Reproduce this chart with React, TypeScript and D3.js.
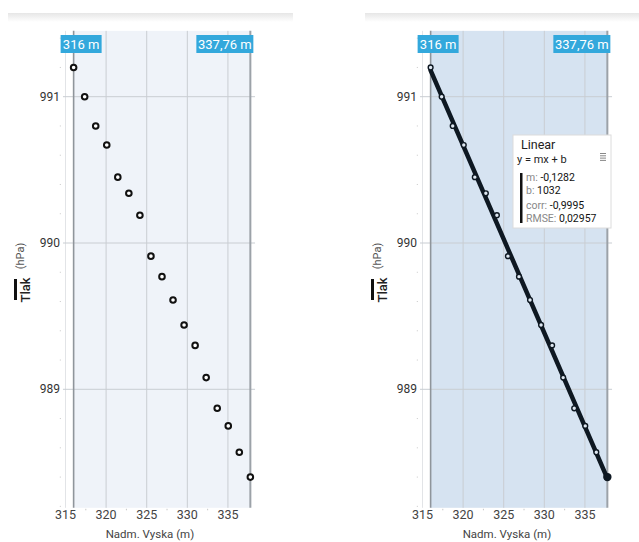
import React from 'react'
import * as d3 from 'd3'

// altitude (m) and pressure (hPa) readings
const altitude = [316, 317.36, 318.72, 320.08, 321.44, 322.8, 324.16, 325.52, 326.88, 328.24, 329.6, 330.96, 332.32, 333.68, 335.04, 336.4, 337.76]
const pressure = [991.2, 991.0, 990.8, 990.67, 990.45, 990.34, 990.19, 989.91, 989.77, 989.61, 989.44, 989.3, 989.08, 988.87, 988.75, 988.57, 988.4]

const xTicks = [315, 320, 325, 330, 335]
const xMinor = [317.5, 322.5, 327.5, 332.5]
const yTicks = [991, 990, 989]
const yMinor = [991.4, 991.2, 990.8, 990.6, 990.4, 990.2, 989.8, 989.6, 989.4, 989.2, 988.8, 988.6, 988.4, 988.2]
const rangeStart = 316
const rangeEnd = 337.76
const rangeLabels = ['316 m', '337,76 m']

const fitStats = [
  { label: 'm:', value: '-0,1282' },
  { label: 'b:', value: '1032' },
  { label: 'corr:', value: '-0,9995' },
  { label: 'RMSE:', value: '0,02957' },
]

const font = 'Roboto, "Noto Sans", sans-serif'

function Panel({ dx, fit }: { dx: number; fit: boolean }) {
  const x = d3.scaleLinear().domain([315, 338]).range([65.5 + dx, 252.3 + dx])
  const y = d3.scaleLinear().domain([991, 989]).range([96.7, 389.3])
  const top = y(991.45)
  const bottom = y(988.19)
  const gx0 = x(314.69)
  const gx1 = x(338.34)

  // least squares line through the points
  const mx = d3.mean(altitude)!
  const my = d3.mean(pressure)!
  const slope = d3.sum(altitude, (a, i) => (a - mx) * (pressure[i] - my)) / d3.sum(altitude, a => (a - mx) ** 2)
  const icpt = my - slope * mx
  const line = d3.line<number>().x(a => x(a)).y(a => y(slope * a + icpt))

  return (
    <g>
      <defs>
        <linearGradient id={`shade${dx}`} x1="0" y1="0" x2="0" y2="1">
          <stop offset="0" stopColor="#e6e6e6" />
          <stop offset="1" stopColor="#ffffff" />
        </linearGradient>
      </defs>
      <rect x={dx === 0 ? 8 : 365} y={13} width={dx === 0 ? 285 : 274} height={9} fill={`url(#shade${dx})`} />

      <rect x={x(rangeStart)} y={top} width={x(rangeEnd) - x(rangeStart)} height={bottom - top} fill={fit ? '#d6e3f1' : '#eff3f9'} />

      {/* grid */}
      <line x1={x(315)} x2={x(315)} y1={top} y2={bottom} stroke="#e2e4e7" strokeWidth={1} />
      {xTicks.filter(t => t > 315).map(t => (
        <line key={t} x1={x(t)} x2={x(t)} y1={top} y2={bottom} stroke="#c9cdd2" strokeWidth={1} />
      ))}
      {yTicks.map(t => (
        <line key={t} x1={gx0} x2={gx1} y1={y(t)} y2={y(t)} stroke="#c9cdd2" strokeWidth={1} />
      ))}
      <line x1={x(rangeStart)} x2={x(rangeStart)} y1={top} y2={bottom} stroke="#8f959b" strokeWidth={1.6} />
      <line x1={x(rangeEnd)} x2={x(rangeEnd)} y1={top} y2={bottom} stroke="#9ca2a8" strokeWidth={2} />

      {/* minor ticks */}
      {yMinor.map(t => (
        <rect key={t} x={x(314.3)} y={y(t) - 0.5} width={1} height={1} fill="#c8c8c8" />
      ))}
      {xMinor.map(t => (
        <rect key={t} x={x(t) - 0.5} y={bottom + 1} width={1} height={1.5} fill="#c8c8c8" />
      ))}

      {/* axes labels */}
      {yTicks.map(t => (
        <text key={t} x={gx0 - 3} y={y(t)} textAnchor="end" dominantBaseline="central" fontSize={12} fill="#333" fontFamily={font}>{t}</text>
      ))}
      {xTicks.map(t => (
        <text key={t} x={x(t)} y={bottom + 7} textAnchor="middle" dominantBaseline="central" fontSize={12.5} fill="#444" fontFamily={font}>{t}</text>
      ))}
      <text x={(x(315) + x(338)) / 2 - 9} y={534} textAnchor="middle" dominantBaseline="central" fontSize={11.5} fill="#444" fontFamily={font}>Nadm. Vyska (m)</text>

      <rect x={14 + dx} y={279} width={3} height={21} fill="#111" />
      <text transform={`translate(${25.5 + dx},290) rotate(-90)`} textAnchor="middle" dominantBaseline="central" fontSize={13} fontWeight={500} fill="#222" fontFamily={font}>Tlak</text>
      <text transform={`translate(${20.5 + dx},256) rotate(-90)`} textAnchor="middle" dominantBaseline="central" fontSize={11} fill="#555" fontFamily={font}>(hPa)</text>

      {/* range labels */}
      <rect x={x(rangeStart) - 13} y={35} width={41} height={18} fill="#33a8dc" />
      <text x={x(rangeStart) + 7.5} y={44} textAnchor="middle" dominantBaseline="central" fontSize={13} fill="#fff" fontFamily={font}>{rangeLabels[0]}</text>
      <rect x={x(rangeEnd) - 54} y={35} width={57} height={18} fill="#33a8dc" />
      <text x={x(rangeEnd) - 25.5} y={44} textAnchor="middle" dominantBaseline="central" fontSize={13} fill="#fff" fontFamily={font}>{rangeLabels[1]}</text>

      {fit && (
        <path d={line([rangeStart, rangeEnd])!} stroke="#0e1822" strokeWidth={4.5} fill="none" strokeLinecap="round" />
      )}

      {/* points */}
      {altitude.map((a, i) => (
        fit ? (
          <circle key={i} cx={x(a)} cy={y(pressure[i])} r={i === altitude.length - 1 ? 3.5 : 2.4}
            fill={i === altitude.length - 1 ? '#0e1822' : '#dfe8f2'} stroke="#0e1822" strokeWidth={1.4} />
        ) : (
          <circle key={i} cx={x(a)} cy={y(pressure[i])} r={2.8} fill="#fff" stroke="#111" strokeWidth={2} />
        )
      ))}

      {fit && (
        <g fontFamily={font}>
          <rect x={513} y={135} width={98} height={93} fill="#fff" stroke="#dcdcdc" strokeWidth={1} />
          <text x={521} y={144} dominantBaseline="central" fontSize={12.5} fill="#222">Linear</text>
          <text x={517} y={159} dominantBaseline="central" fontSize={11} fill="#222">y = mx + b</text>
          {[0, 1, 2, 3].map(k => (
            <rect key={k} x={600} y={153 + k * 2.3} width={6} height={1} fill="#888" />
          ))}
          <rect x={520} y={173} width={2.5} height={50} fill="#111" />
          {fitStats.map((s, k) => (
            <text key={s.label} x={526} y={[177, 189.5, 205, 218][k]} dominantBaseline="central" fontSize={10.5}>
              <tspan fill="#888">{s.label} </tspan>
              <tspan fill="#111">{s.value}</tspan>
            </text>
          ))}
        </g>
      )}
    </g>
  )
}

export default function App() {
  return (
    <svg width={639} height={542} style={{ position: 'absolute', left: 0, top: 0, background: '#fff' }}>
      <rect width={639} height={542} fill="#fff" />
      <Panel dx={0} fit={false} />
      <Panel dx={357} fit={true} />
    </svg>
  )
}
